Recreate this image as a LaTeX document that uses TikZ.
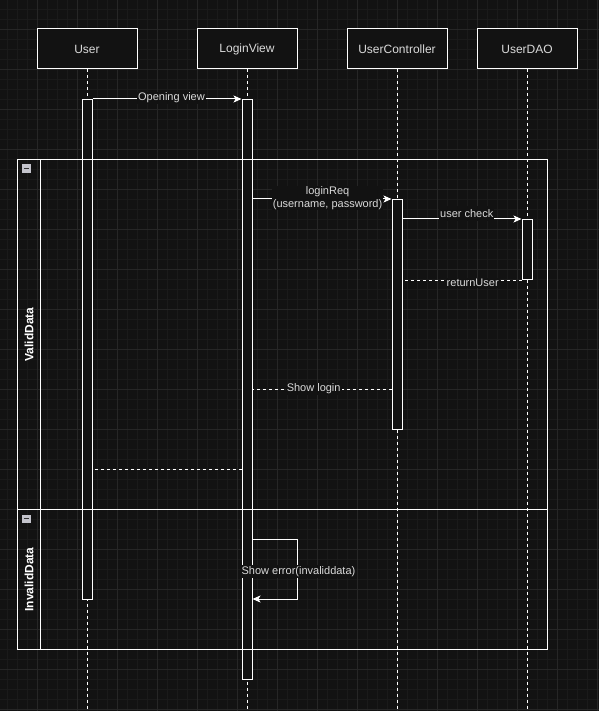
\documentclass[tikz,border=0pt]{standalone}
\usepackage{fontspec}
\setmainfont{Liberation Sans}
\usetikzlibrary{arrows.meta,calc}
\definecolor{bg}{HTML}{121212}
\definecolor{gridmin}{HTML}{1A1A1A}
\definecolor{gridmaj}{HTML}{262626}
\definecolor{txt}{HTML}{DADADA}
\definecolor{icon}{HTML}{C4C4CC}
\begin{document}
\begin{tikzpicture}[x=1pt,y=-1pt,
  actor/.style={draw=white,line width=1pt,fill=bg,minimum width=100pt,minimum height=40pt,inner sep=0pt,text=txt,font=\fontsize{12}{14}\selectfont},
  actbar/.style={draw=white,line width=1pt,fill=bg,minimum width=10pt,inner sep=0pt,anchor=north},
  lifeline/.style={draw=white,line width=1pt,dash pattern=on 3pt off 3pt},
  framebox/.style={draw=white,line width=1pt,minimum width=530pt,inner sep=0pt,anchor=north west},
  framecol/.style={draw=white,line width=1pt,minimum width=23pt,inner sep=0pt,anchor=north west},
  framelbl/.style={text=white,font=\bfseries\fontsize{12}{14}\selectfont,rotate=90},
  msg/.style={draw=white,line width=1pt,-{Stealth[length=8pt,width=7pt,inset=2pt]}},
  ret/.style={draw=white,line width=1pt,dash pattern=on 3pt off 3pt},
  lbl/.style={fill=bg,text=txt,font=\fontsize{11}{13}\selectfont,inner sep=1pt}]
\fill[bg] (0,0) rectangle (599,711);
\useasboundingbox (0,0) rectangle (599,711);
% grid
\foreach \x in {7,17,...,597} \draw[gridmin,line width=0.8pt] (\x,0) -- (\x,711);
\foreach \y in {9,19,...,709} \draw[gridmin,line width=0.8pt] (0,\y) -- (599,\y);
\foreach \x in {37,77,...,597} \draw[gridmaj,line width=0.8pt] (\x,0) -- (\x,711);
\foreach \y in {29,69,...,709} \draw[gridmaj,line width=0.8pt] (0,\y) -- (599,\y);
% actors
\node[actor] (user) at (87,49) {User};
\node[actor] (view) at (247,49) {LoginView};
\node[actor] (ctrl) at (397,49) {UserController};
\node[actor] (dao)  at (527,49) {UserDAO};
\coordinate (userEnd) at (87,711);
\coordinate (viewEnd) at (247,711);
\coordinate (ctrlEnd) at (397,711);
\coordinate (daoEnd)  at (527,711);
\draw[lifeline] (user.south) -- (userEnd);
\draw[lifeline] (view.south) -- (viewEnd);
\draw[lifeline] (ctrl.south) -- (ctrlEnd);
\draw[lifeline] (dao.south) -- (daoEnd);
% activation bars
\node[actbar,minimum height=500pt] (aU) at (87,99) {};
\node[actbar,minimum height=580pt] (aL) at (247,99) {};
\node[actbar,minimum height=230pt] (aC) at (397,199) {};
\node[actbar,minimum height=60pt]  (aD) at (527,219) {};
% frames
\node[framebox,minimum height=350pt] (fValid) at (17,159) {};
\node[framecol,minimum height=350pt] (cValid) at (17,159) {};
\node[framebox,minimum height=140pt] (fInvalid) at (17,509) {};
\node[framecol,minimum height=140pt] (cInvalid) at (17,509) {};
\node[framelbl] (tValid) at (cValid.center) {ValidData};
\node[framelbl] (tInvalid) at (cInvalid.center) {InvalidData};
\foreach \yy in {164.5,514.5}{
  \fill[icon] (22,\yy) rectangle ++(8.5,8.5);
  \draw[black!80,line width=1.2pt] (23.8,\yy+4.25) -- ++(5,0);
}
% message positions
\coordinate (yShowLogin) at (0,389);
\coordinate (yBack) at (0,469);
\coordinate (ySelf1) at (0,539);
\coordinate (ySelf2) at (0,599);
% messages
\draw[msg] (aU.north east) -- node[lbl,pos=0.53,yshift=1pt]{Opening view} (aL.north west);
\draw[msg] (aL.east |- aC.north west) -- node[lbl,pos=0.54,align=center,inner sep=0.5pt,yshift=1pt]{loginReq\\(username, password)} (aC.north west);
\draw[msg] (aC.east |- aD.north west) -- node[lbl,pos=0.54,yshift=5pt,minimum height=15pt]{user check} (aD.north west);
\draw[ret] (aD.south west) -- node[lbl,pos=0.41,yshift=-3pt]{returnUser} (aC.east |- aD.south west);
\draw[ret] (aC.west |- yShowLogin) -- node[lbl,pos=0.56]{Show login} (aL.east |- yShowLogin);
\draw[ret] (aL.west |- yBack) -- (aU.east |- yBack);
\draw[msg] (aL.east |- ySelf1) -- ++(45,0) -- ++(0,60) -- (aL.east |- ySelf2);
\node[lbl] (selfLbl) at (298.5,571.5) {Show error(invaliddata)};
\end{tikzpicture}
\end{document}
